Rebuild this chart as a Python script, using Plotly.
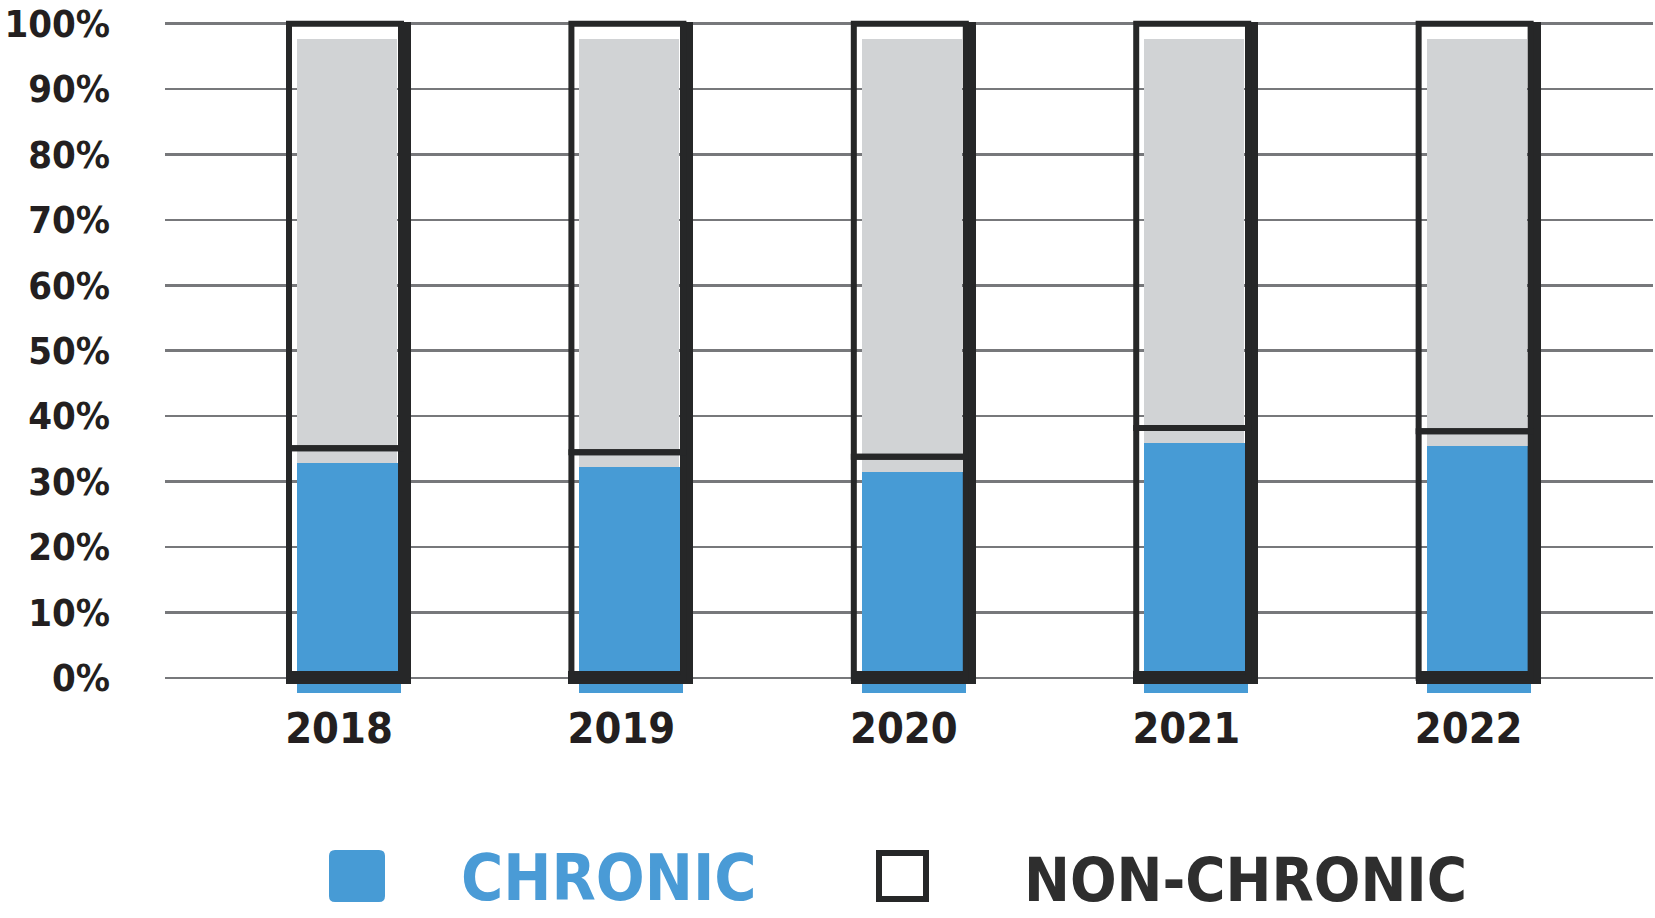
import plotly.graph_objects as go

# ---------------- data ----------------
years = ["2018", "2019", "2020", "2021", "2022"]
chronic = [35.1, 34.5, 33.8, 38.2, 37.7]          # % chronic
non_chronic = [64.9, 65.5, 66.2, 61.8, 62.3]      # % non-chronic
y_tick_vals = [0, 10, 20, 30, 40, 50, 60, 70, 80, 90, 100]
y_tick_text = ["0%", "10%", "20%", "30%", "40%", "50%", "60%", "70%", "80%", "90%", "100%"]
series_names = ["CHRONIC", "NON-CHRONIC"]

# ---------------- style ----------------
BLUE = "#479BD5"
GRAY = "#D1D3D5"
DARK = "#262728"
GRID = "#77787B"
TXT = "#231F20"
FONT = "DejaVu Sans Condensed, Liberation Sans Narrow, sans-serif"

W, H = 1655, 918
ML, MR, MT, MB = 165, 2, 4, 214
PPU = (W - ML - MR) / 5.269      # pixels per category unit
XR = [-0.648, 4.621]
YR = [-4, 103]
FILL_SHIFT = -2.3                # printed fill sits slightly below its outline


def px(a):
    return a / PPU


totals = [c + n for c, n in zip(chronic, non_chronic)]

fig = go.Figure()

# blue fill (chronic)
fig.add_trace(go.Bar(x=years, y=chronic, base=[FILL_SHIFT] * len(years),
                     offset=px(-51), width=px(104),
                     marker=dict(color=BLUE, line=dict(width=0)),
                     showlegend=False, hoverinfo="skip"))
# gray fill (non-chronic)
fig.add_trace(go.Bar(x=years, y=non_chronic, base=[c + FILL_SHIFT for c in chronic],
                     offset=px(-51), width=px(100),
                     marker=dict(color=GRAY, line=dict(width=0)),
                     showlegend=False, hoverinfo="skip"))
# thick right edge of the hand-drawn frame
fig.add_trace(go.Bar(x=years, y=[t + 1.2 for t in totals], base=[-1.0] * len(years),
                     offset=px(50), width=px(13),
                     marker=dict(color=DARK, line=dict(width=0)),
                     showlegend=False, hoverinfo="skip"))
# thick bottom edge
fig.add_trace(go.Bar(x=years, y=[2.0] * len(years), base=[-1.0] * len(years),
                     offset=px(-62), width=px(125),
                     marker=dict(color=DARK, line=dict(width=0)),
                     showlegend=False, hoverinfo="skip"))
# outline boxes
fig.add_trace(go.Bar(x=years, y=chronic, base=[0] * len(years),
                     offset=px(-59), width=px(112), name=series_names[0],
                     marker=dict(color="rgba(0,0,0,0)", line=dict(width=6, color=DARK)),
                     showlegend=False, hoverinfo="skip"))
fig.add_trace(go.Bar(x=years, y=non_chronic, base=chronic,
                     offset=px(-59), width=px(112), name=series_names[1],
                     marker=dict(color="rgba(0,0,0,0)", line=dict(width=6, color=DARK)),
                     showlegend=False, hoverinfo="skip"))

# ---------------- custom legend ----------------
PW = W - ML - MR
PH = H - MT - MB


def xp(p):
    return (p - ML) / PW


def yp(p):
    return (H - MB - p) / PH


def rounded_rect(x0, y0, x1, y1, r):
    # path in paper coordinates, r given in pixels
    rx, ry = r / PW, r / PH
    X0, X1, Y0, Y1 = xp(x0), xp(x1), yp(y1), yp(y0)
    return (f"M {X0+rx},{Y0} L {X1-rx},{Y0} Q {X1},{Y0} {X1},{Y0+ry} "
            f"L {X1},{Y1-ry} Q {X1},{Y1} {X1-rx},{Y1} L {X0+rx},{Y1} "
            f"Q {X0},{Y1} {X0},{Y1-ry} L {X0},{Y0+ry} Q {X0},{Y0} {X0+rx},{Y0} Z")


shapes = [
    dict(type="path", xref="paper", yref="paper",
         path=rounded_rect(329, 850, 385, 902, 6),
         fillcolor=BLUE, line=dict(width=0), layer="above"),
    dict(type="rect", xref="paper", yref="paper",
         x0=xp(879), x1=xp(926), y0=yp(899), y1=yp(853),
         fillcolor="white", line=dict(width=6, color=DARK), layer="above"),
]
annotations = [
    dict(text=series_names[0], xref="paper", yref="paper", x=xp(459), y=yp(878),
         xanchor="left", yanchor="middle", showarrow=False,
         font=dict(family=FONT, size=64, color="#4A9BD6", weight="bold")),
    dict(text=series_names[1], xref="paper", yref="paper", x=xp(1022), y=yp(880),
         xanchor="left", yanchor="middle", showarrow=False,
         font=dict(family=FONT, size=61, color="#2E2E2E", weight="bold")),
]

fig.update_layout(
    width=W, height=H, autosize=False,
    margin=dict(l=ML, r=MR, t=MT, b=MB, pad=0, autoexpand=False),
    paper_bgcolor="white", plot_bgcolor="white",
    barmode="overlay", bargap=0,
    hovermode=False,
    shapes=shapes, annotations=annotations,
    xaxis=dict(type="category", categoryorder="array", categoryarray=years,
               range=XR, showgrid=False, showline=False, zeroline=False, ticks="",
               automargin=False,
               tickfont=dict(family=FONT, size=43, color=TXT, weight="bold"),
               ticklabelshift=-9, ticklabelstandoff=-5),
    yaxis=dict(range=YR, tickvals=y_tick_vals, ticktext=y_tick_text,
               showgrid=True, gridcolor=GRID, gridwidth=2.5,
               zeroline=False, showline=False, ticks="",
               automargin=False, ticklabeloverflow="allow",
               tickfont=dict(family=FONT, size=38, color=TXT, weight="bold"),
               ticklabelstandoff=54),
)

fig.write_html("out.html",
               config={"displayModeBar": False, "staticPlot": True},
               post_script="document.body.style.margin='0';document.body.style.padding='0';")
